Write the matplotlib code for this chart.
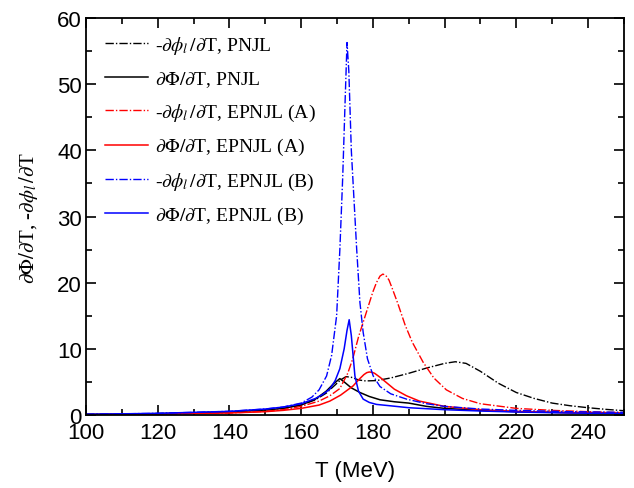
import matplotlib
matplotlib.use('Agg')
import matplotlib.pyplot as plt
from matplotlib.ticker import MultipleLocator

plt.rcParams['mathtext.fontset'] = 'stix'
plt.rcParams['font.family'] = ['Liberation Sans', 'DejaVu Sans']

# -dphi/dT, PNJL (black dash-dot)
T_phi_pnjl = [100, 120, 140, 150, 155, 160, 164, 167, 169, 171, 172.5, 174, 176, 178, 181, 185,
              190, 195, 200, 203, 206, 210, 215, 220, 225, 230, 235, 240, 245, 250]
v_phi_pnjl = [0.1, 0.2, 0.45, 0.75, 1.0, 1.5, 2.3, 3.3, 4.3, 5.3, 5.8, 5.7, 5.3, 5.15, 5.2, 5.6,
              6.3, 7.1, 7.8, 8.05, 7.8, 6.6, 4.8, 3.4, 2.5, 1.8, 1.4, 1.1, 0.85, 0.65]

# dPhi/dT, PNJL (black solid)
T_Phi_pnjl = [100, 120, 140, 150, 155, 160, 164, 167, 169, 170.8, 172, 174, 176.4, 179, 182,
              186, 190, 195, 200, 210, 220, 235, 250]
v_Phi_pnjl = [0.1, 0.2, 0.45, 0.75, 1.0, 1.5, 2.4, 3.6, 4.7, 5.5, 5.0, 4.1, 3.4, 2.8, 2.3,
              2.0, 1.8, 1.3, 1.0, 0.7, 0.5, 0.35, 0.25]

# -dphi/dT, EPNJL (A) (red dash-dot)
T_phi_a = [100, 120, 140, 150, 155, 160, 165, 168, 170.8, 173, 174.4, 176, 178, 180, 181, 182, 182.8,
           183.6, 184.5, 185.5, 187, 189, 191, 194, 197, 200.5, 205, 210, 220, 230, 240, 250]
v_phi_a = [0.05, 0.15, 0.3, 0.55, 0.8, 1.3, 2.1, 2.9, 4.0, 6.3, 8.5, 11.8, 15.2, 18.6, 20.0, 21.0, 21.3,
           21.1, 20.4, 19.0, 16.8, 13.6, 11.0, 8.0, 5.6, 3.8, 2.5, 1.7, 1.0, 0.7, 0.5, 0.35]

# dPhi/dT, EPNJL (A) (red solid)
T_Phi_a = [100, 120, 140, 150, 155, 160, 165, 168, 171, 173, 174.5, 176, 177.5, 178.3, 179, 179.8, 180.5,
           182, 184, 186, 189.4, 193, 200, 210, 220, 235, 250]
v_Phi_a = [0.05, 0.15, 0.3, 0.5, 0.7, 1.0, 1.5, 2.1, 3.0, 3.8, 4.4, 5.3, 6.1, 6.4, 6.5, 6.45, 6.3,
           5.7, 4.8, 3.9, 2.9, 2.1, 1.3, 0.8, 0.55, 0.35, 0.25]

# -dphi/dT, EPNJL (B) (blue dash-dot)
T_phi_b = [100, 120, 140, 150, 155, 160, 163, 165, 167.1, 168.5, 169.9, 170.8, 171.6, 172.3, 172.8,
           173.3, 174, 175.5, 176.4, 177.3, 178.5, 180.1, 182, 185, 189.4, 195, 200, 210, 220, 235, 250]
v_phi_b = [0.1, 0.25, 0.55, 0.9, 1.2, 1.8, 2.7, 3.8, 5.9, 9.0, 15.0, 25.0, 36.0, 48.0, 56.3,
           52.0, 40.0, 25.0, 17.0, 12.5, 8.5, 5.9, 4.3, 3.2, 2.4, 1.7, 1.3, 0.9, 0.7, 0.5, 0.4]

# dPhi/dT, EPNJL (B) (blue solid)
T_Phi_b = [100, 120, 140, 150, 155, 160, 164, 166, 168, 169.5, 170.8, 172, 172.8, 173.4,
           174, 175, 176, 177.3, 179, 181, 184.7, 190, 200, 210, 220, 235, 250]
v_Phi_b = [0.1, 0.25, 0.55, 0.9, 1.2, 1.7, 2.5, 3.1, 3.9, 5.2, 7.0, 10.0, 12.8, 14.4,
           12.0, 5.9, 3.6, 2.4, 1.9, 1.6, 1.4, 1.1, 0.8, 0.6, 0.45, 0.3, 0.2]

serif = ['Liberation Serif', 'DejaVu Serif']

fig = plt.figure(figsize=(6.34, 4.89), dpi=100)
ax = fig.add_axes([0.1356, 0.1493, 0.8484, 0.8117])

dd = (0, (6, 1.5, 1, 1.5))
ax.plot(T_phi_pnjl, v_phi_pnjl, color='black', lw=1, ls=dd,
        label=r'-$\partial\phi_l\,/\partial$T, PNJL')
ax.plot(T_Phi_pnjl, v_Phi_pnjl, color='black', lw=1.1,
        label=r'$\partial\Phi/\partial$T, PNJL')
ax.plot(T_phi_a, v_phi_a, color='red', lw=1, ls=dd,
        label=r'-$\partial\phi_l\,/\partial$T, EPNJL (A)')
ax.plot(T_Phi_a, v_Phi_a, color='red', lw=1.1,
        label=r'$\partial\Phi/\partial$T, EPNJL (A)')
ax.plot(T_phi_b, v_phi_b, color='blue', lw=1, ls=dd,
        label=r'-$\partial\phi_l\,/\partial$T, EPNJL (B)')
ax.plot(T_Phi_b, v_Phi_b, color='blue', lw=1.1,
        label=r'$\partial\Phi/\partial$T, EPNJL (B)')

ax.set_xlim(100, 250)
ax.set_ylim(0, 60)
ax.xaxis.set_major_locator(MultipleLocator(20))
ax.xaxis.set_minor_locator(MultipleLocator(10))
ax.yaxis.set_major_locator(MultipleLocator(10))
ax.yaxis.set_minor_locator(MultipleLocator(5))
ax.tick_params(which='both', direction='in', top=True, right=True, width=1.2, labelsize=16)
ax.tick_params(axis='x', pad=5)
ax.tick_params(axis='y', pad=3)
ax.tick_params(which='major', length=7)
ax.tick_params(which='minor', length=4)
for s in ax.spines.values():
    s.set_linewidth(1.3)

ax.set_xlabel('T (MeV)', fontsize=16, labelpad=12)
ax.set_ylabel(r'$\partial\Phi/\partial$T, -$\partial\phi_l\,/\partial$T',
              fontsize=15, family=serif, labelpad=12)

leg = ax.legend(loc='upper left', frameon=False, prop={'family': serif, 'size': 14},
                handlelength=2.2, labelspacing=0.68, borderaxespad=0.3, handletextpad=0.35,
                bbox_to_anchor=(0.01, 0.995))

fig.savefig('out.png', dpi=100)
